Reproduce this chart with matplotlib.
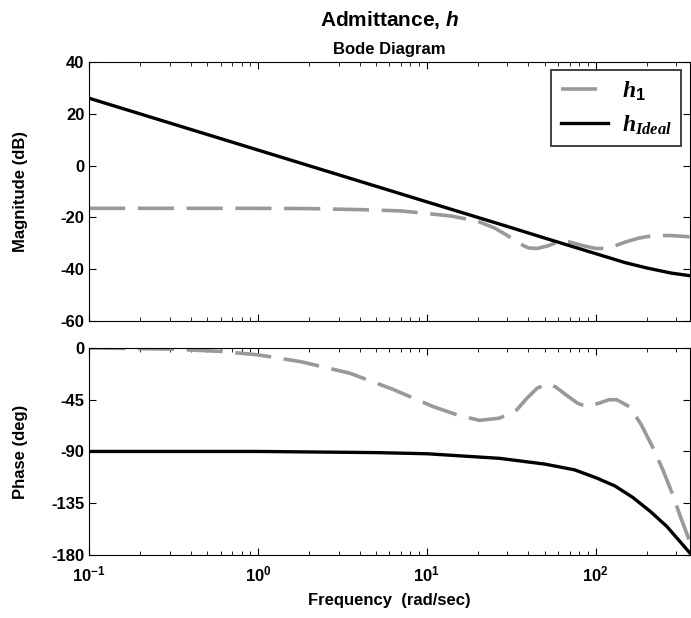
import numpy as np
import matplotlib
matplotlib.use('Agg')
import matplotlib.pyplot as plt
from matplotlib.ticker import FixedLocator, LogLocator, NullFormatter

plt.rcParams['font.family'] = ['Liberation Sans', 'DejaVu Sans']
plt.rcParams['font.weight'] = 'bold'
plt.rcParams['axes.unicode_minus'] = False
plt.rcParams['mathtext.fontset'] = 'custom'
plt.rcParams['mathtext.rm'] = 'Liberation Sans:bold'
plt.rcParams['mathtext.bf'] = 'Liberation Sans:bold'
plt.rcParams['mathtext.it'] = 'Liberation Serif:italic'
plt.rcParams['mathtext.sf'] = 'Liberation Sans:bold:italic'

# Datos
f_mag_ideal = [0.1, 1, 10, 30, 50, 100, 150, 200, 280, 360]
mag_ideal = [26, 6, -14, -23.5, -28, -34, -37.5, -39.5, -41.5, -42.5]

f_mag_h1 = [0.1, 1, 2, 4, 7, 10, 14, 20, 25, 30, 35, 40, 45, 52, 60, 70, 85, 100, 115, 130, 150, 180, 220, 280, 360]
mag_h1 = [-16.5, -16.5, -16.6, -17, -17.5, -18.5, -19.5, -21.5, -24, -27, -30, -31.8, -32, -31, -29.5, -29.5, -31, -32, -32, -31, -29.5, -28, -27, -27, -27.5]

f_ph_ideal = [0.1, 1, 5, 10, 27, 50, 75, 101, 130, 166, 210, 263, 310, 360]
ph_ideal = [-90, -90, -91, -92, -96, -101, -106, -113, -120, -130, -142, -155, -167, -178]

f_ph_h1 = [0.1, 0.3, 0.6, 1, 1.8, 3.5, 6.3, 10.9, 15, 20.5, 27, 34, 39, 45, 52, 58, 67, 78, 88, 105, 120, 133, 158, 185, 217, 250, 283, 320, 360]
ph_h1 = [0, -1, -3, -6, -12, -22, -36, -51, -58, -63, -61, -54, -44, -35, -31, -34, -41, -48, -51, -48, -45, -45, -51, -66, -86, -106, -126, -148, -168]

mag_ticks = [40, 20, 0, -20, -40, -60]
ph_ticks = [0, -45, -90, -135, -180]
dec_ticks = [0.1, 1, 10, 100]
dec_labels = [r'$\mathrm{10^{-1}}$', r'$\mathrm{10^{0}}$', r'$\mathrm{10^{1}}$', r'$\mathrm{10^{2}}$']

fig = plt.figure(figsize=(6.91, 6.18), dpi=100)
ax1 = fig.add_axes([0.129, 0.4806, 0.869, 0.4191])
ax2 = fig.add_axes([0.129, 0.102, 0.869, 0.335])

gray = '#999999'
ax1.plot(f_mag_h1, mag_h1, color=gray, lw=2.6, dashes=(10, 3.5), label=r'$h_{\mathit{1}}$')
ax1.plot(f_mag_ideal, mag_ideal, color='black', lw=2.4, label=r'$h_{\mathit{Ideal}}$')
ax2.plot(f_ph_h1, ph_h1, color=gray, lw=2.6, dashes=(10, 3.5))
ax2.plot(f_ph_ideal, ph_ideal, color='black', lw=2.4)

for ax in (ax1, ax2):
    ax.set_xscale('log')
    ax.set_xlim(0.1, 360)
    ax.xaxis.set_major_locator(FixedLocator(dec_ticks))
    ax.xaxis.set_minor_locator(LogLocator(base=10, subs=np.arange(2, 10)))
    ax.xaxis.set_minor_formatter(NullFormatter())
    ax.tick_params(which='both', direction='in', top=True, right=True, labelsize=12)
    ax.tick_params(which='major', length=5)
    ax.tick_params(which='minor', length=3)
    ax.yaxis.set_label_coords(-0.102, 0.5)

ax1.set_ylim(-60, 40)
ax1.set_yticks(mag_ticks)
ax1.set_xticklabels([])
ax1.set_ylabel('Magnitude (dB)', fontsize=12, fontweight='bold')

ax2.set_ylim(-180, 0)
ax2.set_yticks(ph_ticks)
ax2.set_xticklabels(dec_labels)
ax2.tick_params(axis='x', pad=7)
ax2.set_ylabel('Phase (deg)', fontsize=12, fontweight='bold')
ax2.set_xlabel('Frequency  (rad/sec)', fontsize=12, fontweight='bold', labelpad=6)

leg = ax1.legend(loc='upper right', fontsize=17, frameon=True, fancybox=False,
                 edgecolor='black', handlelength=2.0, handletextpad=0.6,
                 borderaxespad=0.35, labelspacing=0.45)
leg.get_frame().set_linewidth(1.3)

fig.text(0.564, 0.968, r'Admittance, $\mathsf{h}$', ha='center', va='center',
         fontsize=15, fontweight='bold')
fig.text(0.564, 0.92, 'Bode Diagram', ha='center', va='center',
         fontsize=12, fontweight='bold')

fig.savefig('out.png', dpi=100)
